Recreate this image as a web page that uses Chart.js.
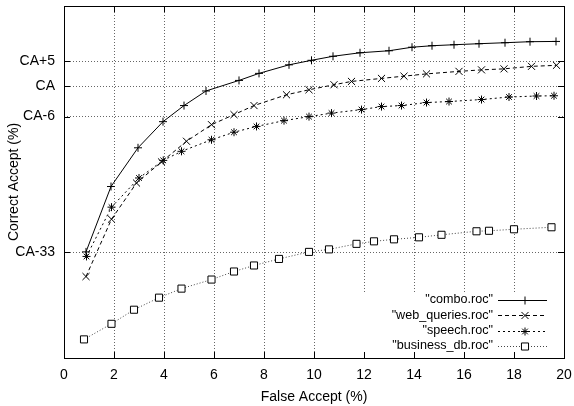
<!DOCTYPE html>
<html>
<head>
<meta charset="utf-8">
<script src="https://cdn.jsdelivr.net/npm/chart.js@4.4.1/dist/chart.umd.min.js"></script>
<style>
  body { margin: 0; background: #fff; }
</style>
</head>
<body>
<canvas id="chart-roc" width="574" height="406"></canvas>
<script>
// values are relative to CA (correct accept baseline)
var comboX = [0.88, 1.88, 2.96, 3.96, 4.8, 5.68, 7.0, 7.8, 9.0, 9.9, 10.76, 11.84, 13.0, 13.92, 14.72, 15.6, 16.6, 17.64, 18.64, 19.68];
var comboY = [-32.9, -19.9, -12.2, -7.0, -3.8, -0.9, 1.2, 2.6, 4.3, 5.2, 6.0, 6.7, 7.1, 7.8, 8.1, 8.3, 8.5, 8.7, 8.9, 8.95];

var webX = [0.88, 1.9, 2.9, 3.9, 4.9, 5.9, 6.8, 7.6, 8.9, 9.8, 10.8, 11.5, 12.7, 13.6, 14.5, 15.8, 16.7, 17.6, 18.7, 19.7];
var webY = [-37.8, -26.4, -19.2, -15.0, -10.9, -7.6, -5.6, -3.8, -1.65, -0.66, 0.34, 1.0, 1.6, 2.05, 2.5, 3.0, 3.3, 3.5, 4.0, 4.2];

var speechX = [0.9, 1.9, 3.0, 3.97, 4.7, 5.9, 6.8, 7.7, 8.8, 9.8, 10.7, 11.9, 12.7, 13.5, 14.5, 15.4, 16.7, 17.8, 18.9, 19.6];
var speechY = [-33.8, -24.0, -18.2, -14.7, -12.9, -10.6, -9.1, -7.95, -6.8, -6.0, -5.3, -4.6, -4.0, -3.8, -3.2, -3.0, -2.6, -2.1, -1.9, -1.85];

var businessX = [0.8, 1.9, 2.8, 3.8, 4.7, 5.9, 6.8, 7.6, 8.6, 9.8, 10.6, 11.7, 12.4, 13.2, 14.2, 15.1, 16.5, 17.0, 18.0, 19.5];
var businessY = [-50.3, -47.2, -44.4, -42.0, -40.2, -38.4, -36.8, -35.6, -34.3, -32.9, -32.4, -31.3, -30.8, -30.4, -30.0, -29.5, -28.8, -28.7, -28.4, -28.0];

var yTickValues = [-33, -6, 0, 5];
var yTickLabels = ["CA-33", "CA-6", "CA", "CA+5"];

var FONT = "'Liberation Sans', Arial, Helvetica, sans-serif";

function toPoints(xs, ys) {
  var pts = [];
  for (var i = 0; i < xs.length; i++) {
    pts.push({ x: xs[i], y: ys[i] });
  }
  return pts;
}

// gnuplot style frame, inward ticks, key box
var gnuFrame = {
  id: "gnuFrame",
  beforeDatasetsDraw: function (chart) {
    var a = chart.chartArea;
    var c = chart.ctx;
    c.save();
    c.fillStyle = "#fff";
    c.fillRect(a.right - 226, a.bottom - 66, 225, 61);
    c.restore();
  },
  afterDraw: function (chart) {
    var a = chart.chartArea;
    var c = chart.ctx;
    var xs = chart.scales.x;
    var ys = chart.scales.y;
    c.save();
    c.strokeStyle = "#000";
    c.lineWidth = 1;
    c.setLineDash([]);
    c.strokeRect(Math.round(a.left) + 0.5, Math.round(a.top) + 0.5,
      Math.round(a.right - a.left), Math.round(a.bottom - a.top));

    c.beginPath();
    xs.ticks.forEach(function (t) {
      var px = Math.round(xs.getPixelForValue(t.value)) + 0.5;
      c.moveTo(px, a.bottom); c.lineTo(px, a.bottom - 6);
      c.moveTo(px, a.top); c.lineTo(px, a.top + 6);
    });
    ys.ticks.forEach(function (t) {
      var py = Math.round(ys.getPixelForValue(t.value)) + 0.5;
      c.moveTo(a.left, py); c.lineTo(a.left + 6, py);
      c.moveTo(a.right, py); c.lineTo(a.right - 6, py);
    });
    c.stroke();

    // key
    c.font = "12.6px " + FONT;
    c.textAlign = "right";
    c.textBaseline = "middle";
    chart.data.datasets.forEach(function (ds, i) {
      var y = a.bottom - 58 + i * 15.3;
      c.fillStyle = "#000";
      c.fillText(ds.label, a.right - 71, y);
      c.beginPath();
      c.setLineDash(ds.borderDash || []);
      c.strokeStyle = ds.borderColor;
      c.moveTo(a.right - 66, Math.round(y) + 0.5);
      c.lineTo(a.right - 17, Math.round(y) + 0.5);
      c.stroke();
      c.setLineDash([]);
      c.strokeStyle = "#000";
      c.fillStyle = "#fff";
      Chart.helpers.drawPoint(c, {
        pointStyle: ds.pointStyle,
        radius: ds.pointRadius,
        rotation: 0,
        borderWidth: 1
      }, a.right - 39, Math.round(y) + 0.5);
    });
    c.restore();
  }
};

var ctx = document.getElementById("chart-roc").getContext("2d");

new Chart(ctx, {
  type: "line",
  data: {
    datasets: [
      {
        label: "\"combo.roc\"",
        data: toPoints(comboX, comboY),
        borderColor: "#000",
        borderWidth: 1,
        pointStyle: "cross",
        pointRadius: 4,
        pointBorderColor: "#000",
        pointBorderWidth: 1,
        tension: 0,
        fill: false,
      },
      {
        label: "\"web_queries.roc\"",
        data: toPoints(webX, webY),
        borderColor: "#000",
        borderWidth: 1,
        borderDash: [4, 3],
        pointStyle: "crossRot",
        pointRadius: 5,
        pointBorderColor: "#000",
        pointBorderWidth: 1,
        tension: 0,
        fill: false,
      },
      {
        label: "\"speech.roc\"",
        data: toPoints(speechX, speechY),
        borderColor: "#000",
        borderWidth: 1,
        borderDash: [2, 3],
        pointStyle: "star",
        pointRadius: 4,
        pointBorderColor: "#000",
        pointBorderWidth: 1,
        tension: 0,
        fill: false,
      },
      {
        label: "\"business_db.roc\"",
        data: toPoints(businessX, businessY),
        borderColor: "#444",
        borderWidth: 1,
        borderDash: [1, 2],
        pointStyle: "rect",
        pointRadius: 5,
        pointBorderColor: "#000",
        pointBackgroundColor: "#fff",
        pointBorderWidth: 1,
        tension: 0,
        fill: false,
      },
    ],
  },
  options: {
    responsive: false,
    animation: false,
    layout: {
      padding: { left: 0, top: 4, right: 10, bottom: 0 },
    },
    plugins: {
      legend: { display: false },
      tooltip: { enabled: false },
    },
    scales: {
      x: {
        type: "linear",
        min: 0,
        max: 20,
        afterFit: function (scale) {
          scale.height = 48;
          scale.paddingLeft = 0;
          scale.paddingRight = 0;
        },
        grid: {
          color: "#666",
          drawTicks: false,
          lineWidth: 1,
        },
        border: { display: false, dash: [1, 2] },
        ticks: {
          stepSize: 2,
          padding: 9,
          color: "#000",
          font: { size: 14, family: FONT },
        },
        title: {
          display: true,
          text: "False Accept (%)",
          color: "#000",
          font: { size: 14, family: FONT },
          padding: { top: 0, bottom: 0 },
        },
      },
      y: {
        type: "linear",
        min: -54,
        max: 16,
        afterFit: function (scale) {
          scale.width = 64;
          scale.paddingTop = 0;
          scale.paddingBottom = 0;
        },
        afterBuildTicks: function (scale) {
          scale.ticks = yTickValues.map(function (v) { return { value: v }; });
        },
        grid: {
          color: "#666",
          drawTicks: false,
          lineWidth: 1,
        },
        border: { display: false, dash: [1, 2] },
        ticks: {
          padding: 9,
          color: "#000",
          font: { size: 14, family: FONT },
          callback: function (value) {
            return yTickLabels[yTickValues.indexOf(value)];
          },
        },
        title: {
          display: true,
          text: "Correct Accept (%)",
          color: "#000",
          font: { size: 14, family: FONT },
          padding: { top: 6, bottom: 6 },
        },
      },
    },
  },
  plugins: [gnuFrame],
});
</script>
</body>
</html>
